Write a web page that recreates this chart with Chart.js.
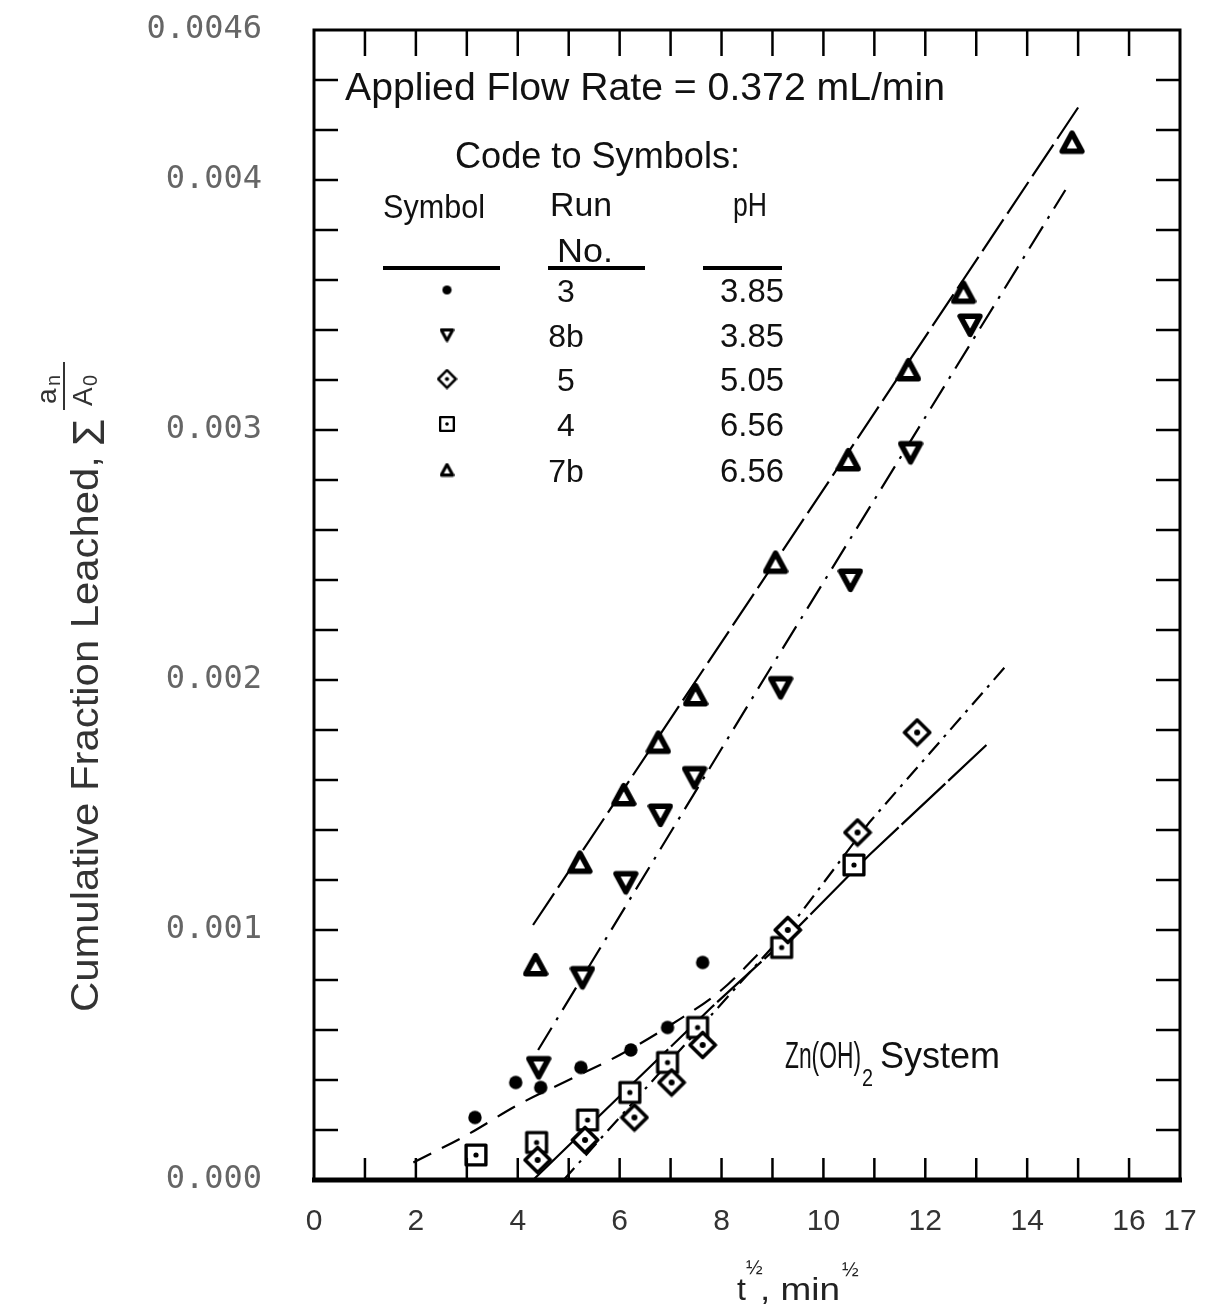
<!DOCTYPE html>
<html>
<head>
<meta charset="utf-8">
<script src="https://cdn.jsdelivr.net/npm/chart.js@4.4.1/dist/chart.umd.min.js"></script>
<style>
html,body{margin:0;padding:0;background:#fff;}
#wrap{width:1213px;height:1312px;}
</style>
</head>
<body>
<div id="wrap"><canvas id="c" width="1213" height="1312"></canvas></div>
<script>
// ---------- DATA ----------
const xTickValues = [0, 2, 4, 6, 8, 10, 12, 14, 16, 17];
const xTickLabels = ['0', '2', '4', '6', '8', '10', '12', '14', '16', '17'];
const yTickValues = [0, 0.001, 0.002, 0.003, 0.004, 0.0046];
const yTickLabels = ['0.000', '0.001', '0.002', '0.003', '0.004', '0.0046'];

// Run 3, pH 3.85 (filled circles)
const run3_t = [3.16, 3.96, 4.45, 5.24, 6.22, 6.94, 7.63];
const run3_v = [0.00025, 0.00039, 0.00037, 0.00045, 0.00052, 0.00061, 0.00087];
// Run 8b, pH 3.85 (inverted triangles)
const run8b_t = [4.41, 5.27, 6.12, 6.80, 7.47, 9.16, 10.53, 11.71, 12.88];
const run8b_v = [0.00045, 0.00081, 0.00119, 0.00146, 0.00161, 0.00197, 0.00240, 0.00291, 0.00342];
// Run 5, pH 5.05 (diamonds)
const run5_t = [4.39, 5.32, 6.29, 7.02, 7.63, 9.30, 10.67, 11.84];
const run5_v = [0.00008, 0.00016, 0.00025, 0.00039, 0.00054, 0.00100, 0.00139, 0.00179];
// Run 4, pH 6.56 (squares)
const run4_t = [3.18, 4.37, 5.37, 6.20, 6.94, 7.53, 9.18, 10.60];
const run4_v = [0.00010, 0.00015, 0.00024, 0.00035, 0.00047, 0.00061, 0.00093, 0.00126];
// Run 7b, pH 6.56 (triangles)
const run7b_t = [4.35, 5.22, 6.08, 6.76, 7.49, 9.06, 10.49, 11.67, 12.75, 14.88];
const run7b_v = [0.00086, 0.00127, 0.00154, 0.00175, 0.00194, 0.00247, 0.00288, 0.00324, 0.00355, 0.00415];

// Fitted lines drawn on the figure
const fit7b_t = [4.3, 15.0];
const fit7b_v = [0.00102, 0.00429];
const fit8b_t = [4.4, 9.0, 14.75];
const fit8b_v = [0.00052, 0.00206, 0.00396];
const fit3_t = [1.95, 3.0, 4.0, 5.0, 6.0, 7.0, 8.0, 8.8];
const fit3_v = [0.00007, 0.00018, 0.00030, 0.00040, 0.00050, 0.00062, 0.00076, 0.00092];
const fit5_t = [4.9, 7.8, 9.3, 10.9, 12.1, 13.6];
const fit5_v = [0, 0.00066, 0.00100, 0.00143, 0.00171, 0.00206];
const fit4_t = [4.3, 7.8, 9.3, 10.9, 13.2];
const fit4_v = [0, 0.00069, 0.00097, 0.00130, 0.00174];

// Legend table
const legendRuns = ['3', '8b', '5', '4', '7b'];
const legendPH = ['3.85', '3.85', '5.05', '6.56', '6.56'];
const legendKinds = ['circle', 'triDown', 'diamond', 'square', 'triUp'];

// ---------- helpers ----------
const NARROW = '"Liberation Sans Narrow", "Liberation Sans", Arial, sans-serif';
const MONO = '"DejaVu Sans Mono", "Liberation Mono", monospace';

function pts(ts, vs) { return ts.map((t, i) => ({x: t, y: vs[i]})); }

function marker(kind, s) {
  const c = document.createElement('canvas');
  c.width = s; c.height = s;
  const g = c.getContext('2d');
  const m = s / 2;
  g.strokeStyle = '#000'; g.fillStyle = '#000'; g.lineJoin = 'round';
  if (kind === 'circle') {
    g.beginPath(); g.arc(m, m, s * 0.42, 0, 2 * Math.PI); g.fill();
  } else if (kind === 'triUp' || kind === 'triDown') {
    g.lineWidth = s * 0.21;
    g.beginPath();
    if (kind === 'triUp') {
      g.moveTo(m, s * 0.14); g.lineTo(s * 0.88, s * 0.84); g.lineTo(s * 0.12, s * 0.84);
    } else {
      g.moveTo(s * 0.12, s * 0.16); g.lineTo(s * 0.88, s * 0.16); g.lineTo(m, s * 0.86);
    }
    g.closePath(); g.fillStyle = '#fff'; g.fill(); g.stroke();
  } else if (kind === 'diamond') {
    g.lineWidth = s * 0.12;
    g.beginPath();
    g.moveTo(m, s * 0.08); g.lineTo(s * 0.92, m); g.lineTo(m, s * 0.92); g.lineTo(s * 0.08, m);
    g.closePath(); g.fillStyle = '#fff'; g.fill(); g.stroke();
    g.fillStyle = '#000'; g.beginPath(); g.arc(m, m, s * 0.1, 0, 2 * Math.PI); g.fill();
  } else if (kind === 'square') {
    g.lineWidth = s * 0.13;
    g.fillStyle = '#fff';
    g.fillRect(s * 0.12, s * 0.12, s * 0.76, s * 0.76);
    g.strokeRect(s * 0.12, s * 0.12, s * 0.76, s * 0.76);
    g.fillStyle = '#000'; g.beginPath(); g.arc(m, m, s * 0.1, 0, 2 * Math.PI); g.fill();
  }
  return c;
}

const mk = {
  circle: marker('circle', 16),
  triDown: marker('triDown', 26),
  diamond: marker('diamond', 30),
  square: marker('square', 26),
  triUp: marker('triUp', 26)
};
const mkSmall = {
  circle: marker('circle', 11),
  triDown: marker('triDown', 15),
  diamond: marker('diamond', 21),
  square: marker('square', 18),
  triUp: marker('triUp', 15)
};

function fitText(ctx, str, x, y, w, size, family) {
  ctx.font = size + 'px ' + family;
  const m = ctx.measureText(str).width;
  ctx.save();
  ctx.translate(x, y);
  ctx.scale(w / m, 1);
  ctx.textAlign = 'left';
  ctx.fillText(str, 0, 0);
  ctx.restore();
}

// ---------- decoration plugin ----------
const decor = {
  id: 'decor',
  beforeDraw(chart) {
    const ctx = chart.ctx;
    ctx.save(); ctx.fillStyle = '#fff'; ctx.fillRect(0, 0, chart.width, chart.height); ctx.restore();
  },
  afterDraw(chart) {
    const ctx = chart.ctx;
    const {left, right, top, bottom} = chart.chartArea;
    const xs = chart.scales.x, ys = chart.scales.y;
    ctx.save();
    ctx.strokeStyle = '#000'; ctx.fillStyle = '#000';
    // frame
    ctx.lineWidth = 3;
    ctx.beginPath();
    ctx.moveTo(left, bottom); ctx.lineTo(left, top); ctx.lineTo(right, top); ctx.lineTo(right, bottom);
    ctx.stroke();
    ctx.lineWidth = 5;
    ctx.beginPath(); ctx.moveTo(left - 2, bottom); ctx.lineTo(right + 2, bottom); ctx.stroke();
    // inward ticks
    ctx.lineWidth = 2.5;
    for (let t = 1; t < 17; t++) {
      const px = xs.getPixelForValue(t);
      ctx.beginPath(); ctx.moveTo(px, bottom); ctx.lineTo(px, bottom - 22); ctx.stroke();
      ctx.beginPath(); ctx.moveTo(px, top); ctx.lineTo(px, top + 26); ctx.stroke();
    }
    for (let k = 1; k < 23; k++) {
      const py = ys.getPixelForValue(k * 0.0002);
      ctx.beginPath(); ctx.moveTo(left, py); ctx.lineTo(left + 24, py); ctx.stroke();
      ctx.beginPath(); ctx.moveTo(right, py); ctx.lineTo(right - 24, py); ctx.stroke();
    }

    // annotation texts
    ctx.textBaseline = 'alphabetic';
    ctx.fillStyle = '#111';
    fitText(ctx, 'Applied Flow Rate = 0.372 mL/min', 345, 100, 600, 38, NARROW);
    fitText(ctx, 'Code to Symbols:', 455, 168, 285, 36, NARROW);
    fitText(ctx, 'Symbol', 383, 218, 102, 34, NARROW);
    fitText(ctx, 'Run', 550, 216, 62, 34, NARROW);
    fitText(ctx, 'No.', 557, 262, 56, 34, NARROW);
    fitText(ctx, 'pH', 733, 216, 34, 34, NARROW);
    ctx.lineWidth = 4;
    [[383, 500], [548, 645], [703, 782]].forEach(([a, b]) => {
      ctx.beginPath(); ctx.moveTo(a, 268); ctx.lineTo(b, 268); ctx.stroke();
    });
    const rowY = [290, 335, 379, 424, 470];
    for (let i = 0; i < legendRuns.length; i++) {
      const img = mkSmall[legendKinds[i]];
      ctx.drawImage(img, 447 - img.width / 2, rowY[i] - img.height / 2);
      ctx.textAlign = 'center';
      ctx.font = '32px ' + NARROW;
      ctx.fillText(legendRuns[i], 566, rowY[i] + 12);
      fitText(ctx, legendPH[i], 720, rowY[i] + 12, 64, 34, NARROW);
    }

    // Zn(OH)2 System
    fitText(ctx, 'Zn(OH)', 785, 1068, 76, 36, NARROW);
    fitText(ctx, '2', 862, 1086, 11, 24, NARROW);
    fitText(ctx, 'System', 880, 1068, 120, 36, NARROW);

    // y-axis title (rotated)
    ctx.save();
    ctx.translate(84, 1012);
    ctx.rotate(-Math.PI / 2);
    ctx.fillStyle = '#333';
    fitText(ctx, 'Cumulative Fraction Leached,', 0, 14, 556, 38, NARROW);
    ctx.font = '44px ' + NARROW;
    ctx.textAlign = 'left';
    ctx.fillText('\u03A3', 566, 20);
    ctx.font = '28px ' + NARROW;
    ctx.fillText('a', 608, -28);
    ctx.font = '20px ' + NARROW;
    ctx.fillText('n', 626, -24);
    ctx.lineWidth = 2;
    ctx.strokeStyle = '#333';
    ctx.beginPath(); ctx.moveTo(602, -20); ctx.lineTo(650, -20); ctx.stroke();
    ctx.font = '28px ' + NARROW;
    ctx.fillText('A', 606, 8);
    ctx.font = '20px ' + NARROW;
    ctx.fillText('0', 626, 13);
    ctx.restore();

    // x-axis title
    ctx.fillStyle = '#222';
    ctx.textAlign = 'left';
    ctx.font = '32px ' + NARROW;
    ctx.fillText('t', 737, 1300);
    ctx.font = '20px ' + NARROW;
    ctx.fillText('\u00BD', 746, 1274);
    fitText(ctx, ', min', 760, 1300, 80, 32, NARROW);
    ctx.font = '20px ' + NARROW;
    ctx.fillText('\u00BD', 842, 1276);
    ctx.restore();
  }
};

const pointDs = (label, ts, vs, kind) => ({
  label, data: pts(ts, vs), showLine: false,
  pointStyle: mk[kind], pointRadius: 10, order: 1
});
const lineDs = (label, ts, vs, dash, curve) => ({
  label, data: pts(ts, vs), showLine: true, pointRadius: 0,
  borderColor: '#000', borderWidth: 2.2, borderDash: dash,
  tension: curve ? 0.4 : 0, cubicInterpolationMode: curve ? 'monotone' : 'default',
  order: 2
});

new Chart(document.getElementById('c'), {
  type: 'scatter',
  data: {
    datasets: [
      pointDs('Run 3', run3_t, run3_v, 'circle'),
      pointDs('Run 8b', run8b_t, run8b_v, 'triDown'),
      pointDs('Run 5', run5_t, run5_v, 'diamond'),
      pointDs('Run 4', run4_t, run4_v, 'square'),
      pointDs('Run 7b', run7b_t, run7b_v, 'triUp'),
      lineDs('fit 7b', fit7b_t, fit7b_v, [38, 7]),
      lineDs('fit 8b', fit8b_t, fit8b_v, [26, 9, 3, 9]),
      lineDs('fit 3', fit3_t, fit3_v, [20, 12], true),
      lineDs('fit 5', fit5_t, fit5_v, [16, 7, 3, 7]),
      lineDs('fit 4', fit4_t, fit4_v, [60, 4])
    ]
  },
  options: {
    responsive: false,
    animation: false,
    devicePixelRatio: 1,
    layout: {padding: {top: 30, right: 33, left: 0, bottom: 0}},
    plugins: {legend: {display: false}, tooltip: {enabled: false}},
    scales: {
      x: {
        type: 'linear', min: 0, max: 17,
        afterBuildTicks: (s) => { s.ticks = xTickValues.map(v => ({value: v})); },
        afterFit: (s) => { s.height = 132; s.paddingLeft = 0; s.paddingRight = 0; },
        grid: {display: false, drawTicks: false},
        border: {display: false},
        ticks: {
          autoSkip: false, maxRotation: 0, padding: 24, color: '#333',
          font: {family: NARROW, size: 30},
          callback: (v) => { const i = xTickValues.indexOf(v); return i >= 0 ? xTickLabels[i] : ''; }
        }
      },
      y: {
        type: 'linear', min: 0, max: 0.0046,
        afterBuildTicks: (s) => { s.ticks = yTickValues.map(v => ({value: v})); },
        afterFit: (s) => { s.width = 314; s.paddingTop = 0; s.paddingBottom = 0; },
        grid: {display: false, drawTicks: false},
        border: {display: false},
        ticks: {
          autoSkip: false, padding: 52, color: '#666',
          font: {family: MONO, size: 32},
          callback: (v) => { const i = yTickValues.indexOf(v); return i >= 0 ? yTickLabels[i] : ''; }
        }
      }
    }
  },
  plugins: [decor]
});
</script>
</body>
</html>
